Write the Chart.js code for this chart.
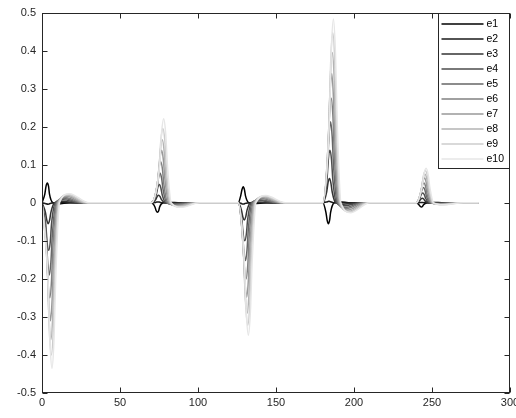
<!DOCTYPE html>
<html lang="en">
<head>
<meta charset="UTF-8">
<title>e1 - e10</title>
<style>
  html, body { margin: 0; padding: 0; background: #fff; overflow: hidden; }
  #wrap { width: 530px; height: 418px; }
</style>
</head>
<body>
<div id="wrap"><canvas id="chart" width="530" height="418"></canvas></div>
<script src="https://cdn.jsdelivr.net/npm/chart.js"></script>
<script>
// series names and gray levels (black -> light gray)
const names = ['e1', 'e2', 'e3', 'e4', 'e5', 'e6', 'e7', 'e8', 'e9', 'e10'];
const colors = ['#000000', '#1a1a1a', '#333333', '#4d4d4d', '#666666',
                '#808080', '#999999', '#b3b3b3', '#cccccc', '#e6e6e6'];

// axis ticks
const xTicks = [0, 50, 100, 150, 200, 250, 300];
const yTicks = [-0.5, -0.4, -0.3, -0.2, -0.1, 0, 0.1, 0.2, 0.3, 0.4, 0.5];

// [time, value] pairs
const e1 = [[0,0],[1.8,0.023],[2.6,0.044],[3.4,0.052],[4.2,0.043],[4.8,0.023],[7,0],[10,-0.003],[18,0],
  [70,0],[72.4,-0.011],[73.2,-0.021],[74,-0.025],[74.8,-0.021],[75.4,-0.011],[77.6,0],[80.6,0.001],[89,0],
  [125.8,0],[127.4,0.019],[128.2,0.035],[129,0.042],[129.8,0.034],[130.4,0.019],[132.6,0],[135.6,-0.002],[144,0],
  [180,0],[182,-0.025],[182.8,-0.046],[183.6,-0.055],[184.4,-0.045],[185,-0.025],[187.2,0],[190.2,0.003],[198,0],
  [240,0],[241.6,-0.005],[242.4,-0.009],[243.2,-0.011],[244,-0.009],[244.6,-0.005],[246.8,0],[249.8,0.001],[258,0],[280,0]];
const e2 = [[0,0],[2,-0.002],[2.9,-0.003],[3.7,-0.004],[4.5,-0.003],[5.2,-0.002],[7.3,0],[11,0.001],[20,0],
  [70,0],[72.7,0.001],[73.6,0.002],[74.4,0.002],[75.2,0.002],[75.9,0.001],[78,0],[81.7,0],[91,0],
  [125.8,0],[127.6,-0.001],[128.5,-0.003],[129.3,-0.003],[130.1,-0.002],[130.8,-0.001],[132.9,0],[136.6,0],[146,0],
  [180,0],[182.2,0.002],[183.1,0.003],[183.9,0.004],[184.7,0.003],[185.4,0.002],[187.5,0],[191.2,0],[200,0],
  [240,0],[241.8,0],[242.7,0.001],[243.5,0.001],[244.3,0.001],[245,0],[247.1,0],[250.8,0],[260,0],[280,0]];
const e3 = [[0,0],[2.2,-0.025],[3.1,-0.046],[4,-0.055],[4.9,-0.045],[5.7,-0.025],[8,0],[12.5,0.004],[22,0],
  [70,0],[73,0.009],[73.9,0.017],[74.8,0.02],[75.7,0.016],[76.5,0.009],[78.8,0],[83.3,-0.001],[93,0],
  [125.8,0],[127.9,-0.02],[128.8,-0.038],[129.7,-0.045],[130.6,-0.037],[131.4,-0.02],[133.7,0],[138.2,0.002],[148,0],
  [180,0],[182.5,0.029],[183.4,0.054],[184.3,0.064],[185.2,0.052],[186,0.029],[188.3,0],[192.8,-0.004],[202,0],
  [240,0],[242,0.005],[242.9,0.01],[243.8,0.012],[244.7,0.01],[245.5,0.005],[247.8,0],[252.3,-0.001],[262,0],[280,0]];
const e4 = [[0,0],[2.4,-0.056],[3.3,-0.105],[4.3,-0.125],[5.3,-0.103],[6.1,-0.056],[8.5,0],[13.5,0.008],[24,0],
  [70,0],[73.3,0.022],[74.2,0.04],[75.2,0.048],[76.2,0.039],[77,0.022],[79.4,0],[84.4,-0.003],[95,0],
  [125.8,0],[128.1,-0.045],[129,-0.084],[130,-0.1],[131,-0.082],[131.8,-0.045],[134.2,0],[139.2,0.006],[150,0],
  [180,0],[182.7,0.062],[183.6,0.116],[184.6,0.138],[185.6,0.113],[186.4,0.062],[188.8,0],[193.8,-0.008],[204,0],
  [240,0],[242.2,0.012],[243.1,0.022],[244.1,0.026],[245.1,0.021],[245.9,0.012],[248.3,0],[253.3,-0.0015],[264,0],[280,0]];
const e5 = [[0,0],[2.7,-0.086],[3.7,-0.16],[4.7,-0.19],[5.7,-0.156],[6.6,-0.086],[9,0],[14.2,0.011],[25,0],
  [70,0],[73.7,0.035],[74.7,0.066],[75.7,0.078],[76.7,0.064],[77.6,0.035],[80,0],[85.2,-0.004],[96,0],
  [125.8,0],[128.4,-0.068],[129.4,-0.128],[130.4,-0.152],[131.4,-0.125],[132.3,-0.068],[134.7,0],[139.9,0.008],[151,0],
  [180,0],[183,0.096],[184,0.179],[185,0.213],[186,0.175],[186.9,0.096],[189.3,0],[194.5,-0.012],[205,0],
  [240,0],[242.5,0.018],[243.5,0.034],[244.5,0.04],[245.5,0.033],[246.4,0.018],[248.8,0],[254,-0.002],[265,0],[280,0]];
const e6 = [[0,0],[2.8,-0.113],[3.9,-0.21],[5,-0.25],[6.1,-0.205],[7,-0.113],[9.5,0],[15,0.014],[26,0],
  [70,0],[73.9,0.049],[75,0.091],[76.1,0.108],[77.2,0.089],[78.1,0.049],[80.6,0],[86.1,-0.006],[97,0],
  [125.8,0],[128.6,-0.09],[129.7,-0.168],[130.8,-0.2],[131.9,-0.164],[132.8,-0.09],[135.3,0],[140.8,0.011],[152,0],
  [180,0],[183.2,0.124],[184.3,0.231],[185.4,0.275],[186.5,0.226],[187.4,0.124],[189.9,0],[195.4,-0.015],[206,0],
  [240,0],[242.6,0.023],[243.7,0.044],[244.8,0.052],[245.9,0.043],[246.8,0.023],[249.3,0],[254.8,-0.003],[266,0],[280,0]];
const e7 = [[0,0],[3.1,-0.14],[4.3,-0.26],[5.4,-0.31],[6.5,-0.254],[7.5,-0.14],[10,0],[15.7,0.017],[27,0],
  [70,0],[74.4,0.062],[75.6,0.116],[76.7,0.138],[77.8,0.113],[78.8,0.062],[81.3,0],[87,-0.008],[98,0],
  [125.8,0],[128.9,-0.112],[130.1,-0.208],[131.2,-0.248],[132.3,-0.203],[133.3,-0.112],[135.8,0],[141.5,0.014],[153,0],
  [180,0],[183.4,0.153],[184.6,0.286],[185.7,0.34],[186.8,0.279],[187.8,0.153],[190.3,0],[196,-0.019],[207,0],
  [240,0],[242.9,0.029],[244.1,0.055],[245.2,0.065],[246.3,0.053],[247.3,0.029],[249.8,0],[255.5,-0.004],[267,0],[280,0]];
const e8 = [[0,0],[3.3,-0.162],[4.5,-0.302],[5.7,-0.36],[6.9,-0.295],[7.9,-0.162],[10.4,0],[16.4,0.02],[28,0],
  [70,0],[74.7,0.075],[75.9,0.139],[77.1,0.166],[78.3,0.136],[79.3,0.075],[81.8,0],[87.8,-0.009],[99,0],
  [125.8,0],[129.1,-0.13],[130.3,-0.244],[131.5,-0.29],[132.7,-0.238],[133.7,-0.13],[136.2,0],[142.2,0.016],[154,0],
  [180,0],[183.7,0.178],[184.9,0.332],[186.1,0.395],[187.3,0.324],[188.3,0.178],[190.8,0],[196.8,-0.022],[208,0],
  [240,0],[243.1,0.034],[244.3,0.063],[245.5,0.075],[246.7,0.062],[247.7,0.034],[250.2,0],[256.2,-0.004],[268,0],[280,0]];
const e9 = [[0,0],[3.5,-0.18],[4.7,-0.336],[6,-0.4],[7.3,-0.328],[8.3,-0.18],[10.8,0],[17,0.022],[29,0],
  [70,0],[75,0.088],[76.2,0.164],[77.5,0.195],[78.8,0.16],[79.8,0.088],[82.3,0],[88.5,-0.011],[100,0],
  [125.8,0],[129.4,-0.145],[130.6,-0.27],[131.9,-0.322],[133.2,-0.264],[134.2,-0.145],[136.7,0],[142.9,0.018],[155,0],
  [180,0],[183.9,0.201],[185.1,0.375],[186.4,0.447],[187.7,0.367],[188.7,0.201],[191.2,0],[197.4,-0.024],[209,0],
  [240,0],[243.3,0.038],[244.5,0.071],[245.8,0.084],[247.1,0.069],[248.1,0.038],[250.6,0],[256.8,-0.005],[269,0],[280,0]];
const e10 = [[0,0],[3.8,-0.196],[5.1,-0.365],[6.4,-0.435],[7.7,-0.357],[8.8,-0.196],[11.2,0],[17.6,0.024],[30,0],
  [70,0],[75.4,0.099],[76.7,0.186],[78,0.221],[79.3,0.181],[80.4,0.099],[82.8,0],[89.2,-0.012],[101,0],
  [125.8,0],[129.7,-0.157],[131,-0.292],[132.3,-0.348],[133.6,-0.285],[134.7,-0.157],[137.1,0],[143.5,0.019],[156,0],
  [180,0],[184.2,0.217],[185.5,0.406],[186.8,0.483],[188.1,0.396],[189.2,0.217],[191.6,0],[198,-0.026],[210,0],
  [240,0],[243.6,0.041],[244.9,0.076],[246.2,0.091],[247.5,0.075],[248.6,0.041],[251,0],[257.4,-0.005],[270,0],[280,0]];

const series = [e1, e2, e3, e4, e5, e6, e7, e8, e9, e10];
const axisColor = '#262626';
const font = { family: '"Liberation Sans", Arial, sans-serif', size: 11 };

// box around the axes + inward tick marks (MATLAB style)
const boxTicks = {
  id: 'boxTicks',
  afterDatasetsDraw(chart) {
    const { ctx, chartArea: a, scales: { x, y } } = chart;
    const L = Math.round(a.left) + 0.5, R = Math.round(a.right) - 0.5;
    const T = Math.round(a.top) + 0.5, B = Math.round(a.bottom) - 0.5;
    ctx.save();
    ctx.strokeStyle = axisColor;
    ctx.lineWidth = 1;
    ctx.beginPath();
    xTicks.forEach(v => {
      const px = Math.round(x.getPixelForValue(v)) + 0.5;
      ctx.moveTo(px, B); ctx.lineTo(px, B - 5);
      ctx.moveTo(px, T); ctx.lineTo(px, T + 5);
    });
    yTicks.forEach(v => {
      const py = Math.round(y.getPixelForValue(v)) + 0.5;
      ctx.moveTo(L, py); ctx.lineTo(L + 5, py);
      ctx.moveTo(R, py); ctx.lineTo(R - 5, py);
    });
    ctx.stroke();
    ctx.strokeRect(L, T, R - L, B - T);
    ctx.restore();
  }
};

// legend box in the top right corner
const boxLegend = {
  id: 'boxLegend',
  afterDraw(chart) {
    const { ctx, chartArea: a } = chart;
    const right = Math.round(a.right) - 0.5;
    const left = right - 71, top = Math.round(a.top) + 0.5;
    ctx.save();
    ctx.fillStyle = '#fff';
    ctx.fillRect(left, top, right - left, 155);
    ctx.strokeStyle = axisColor;
    ctx.lineWidth = 1;
    ctx.strokeRect(left, top, right - left, 155);
    ctx.font = '10.5px "Liberation Sans", Arial, sans-serif';
    ctx.textBaseline = 'middle';
    chart.data.datasets.forEach((ds, i) => {
      const yy = top + 10.5 + i * 15;
      ctx.strokeStyle = ds.borderColor;
      ctx.lineWidth = 1.5;
      ctx.beginPath();
      ctx.moveTo(left + 3, yy);
      ctx.lineTo(left + 45, yy);
      ctx.stroke();
      ctx.fillStyle = '#000';
      ctx.fillText(ds.label, left + 48, yy);
    });
    ctx.restore();
  }
};

new Chart(document.getElementById('chart').getContext('2d'), {
  type: 'line',
  data: {
    datasets: series.map((s, i) => ({
      label: names[i],
      data: s.map(p => ({ x: p[0], y: p[1] })),
      borderColor: colors[i],
      borderWidth: 1.5,
      pointRadius: 0,
      fill: false,
      cubicInterpolationMode: 'monotone',
      order: 9 - i
    }))
  },
  options: {
    responsive: false,
    animation: false,
    layout: { padding: { top: 12, right: 20, left: 0, bottom: 0 } },
    plugins: { legend: { display: false }, tooltip: { enabled: false } },
    scales: {
      x: {
        type: 'linear', min: 0, max: 300,
        afterBuildTicks: s => { s.ticks = xTicks.map(v => ({ value: v })); },
        afterFit: s => { s.height = 25; },
        grid: { drawOnChartArea: false, drawTicks: false },
        border: { display: false },
        ticks: { color: axisColor, font, padding: 3, maxRotation: 0, autoSkip: false,
                 callback: v => String(v) }
      },
      y: {
        type: 'linear', min: -0.5, max: 0.5,
        afterBuildTicks: s => { s.ticks = yTicks.map(v => ({ value: v })); },
        afterFit: s => { s.width = 42; },
        grid: { drawOnChartArea: false, drawTicks: false },
        border: { display: false },
        ticks: { color: axisColor, font, padding: 6, autoSkip: false,
                 callback: v => String(Number(v.toFixed(1))) }
      }
    }
  },
  plugins: [boxTicks, boxLegend]
});
</script>
</body>
</html>
